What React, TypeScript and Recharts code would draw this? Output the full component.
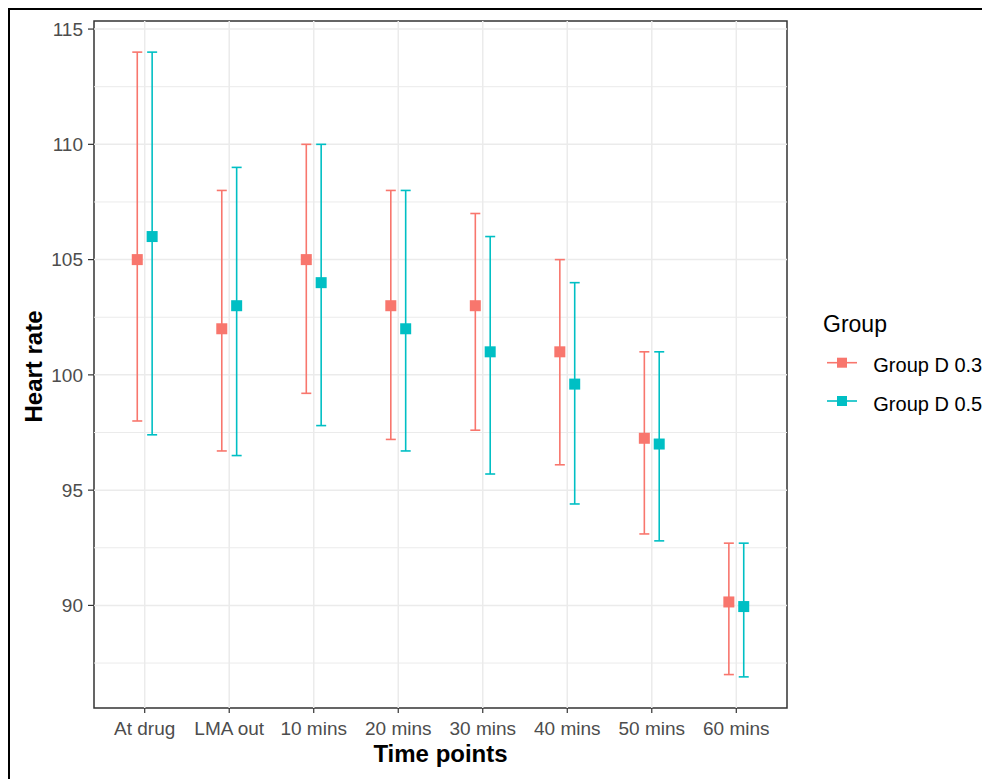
import React from "react";
import {
  ComposedChart,
  ErrorBar,
  Label,
  ReferenceArea,
  ReferenceLine,
  Scatter,
  XAxis,
  YAxis
} from "recharts";

const timePoints = ["At drug", "LMA out", "10 mins", "20 mins", "30 mins", "40 mins", "50 mins", "60 mins"];

// Group D 0.3
const d03Mean = [105, 102, 105, 103, 103, 101, 97.25, 90.15];
const d03Low = [98, 96.7, 99.2, 97.2, 97.6, 96.1, 93.1, 87];
const d03High = [114, 108, 110, 108, 107, 105, 101, 92.7];

// Group D 0.5
const d05Mean = [106, 103, 104, 102, 101, 99.6, 97, 89.95];
const d05Low = [97.4, 96.5, 97.8, 96.7, 95.7, 94.4, 92.8, 86.9];
const d05High = [114, 109, 110, 108, 106, 104, 101, 92.7];

const yTicks = [90, 95, 100, 105, 110, 115];
const yMinor = [87.5, 92.5, 97.5, 102.5, 107.5, 112.5];

const RED = "#F8766D";
const TEAL = "#00BFC4";
const FONT = "'Liberation Sans', Arial, sans-serif";
const DODGE = 0.088;
const X_DOMAIN: [number, number] = [0.4, 8.6];
const Y_DOMAIN: [number, number] = [85.55, 115.35];

const build = (mean: number[], low: number[], high: number[], shift: number) =>
  mean.map((m, i) => ({
    x: i + 1 + shift,
    y: m,
    err: [m - low[i], high[i] - m]
  }));

const squareShape = (color: string) => (props: any) => (
  <rect x={props.cx - 5.5} y={props.cy - 5.5} width={11} height={11} fill={color} />
);

export default function App() {
  const d03 = build(d03Mean, d03Low, d03High, -DODGE);
  const d05 = build(d05Mean, d05Low, d05High, DODGE);
  const xTicks = timePoints.map((_, i) => i + 1);

  return (
    <div
      style={{
        position: "relative",
        width: 982,
        height: 771,
        borderTop: "2px solid #000",
        borderLeft: "2px solid #000",
        boxSizing: "border-box",
        fontFamily: FONT
      }}
    >
      <ComposedChart width={980} height={769} margin={{ top: 11, right: 203, bottom: 31, left: 10 }}>
        {yMinor.map((v) => (
          <ReferenceLine key={"mn" + v} y={v} stroke="#EBEBEB" strokeWidth={1} />
        ))}
        {yTicks.map((v) => (
          <ReferenceLine key={"mj" + v} y={v} stroke="#EBEBEB" strokeWidth={1.5} />
        ))}
        {xTicks.map((v) => (
          <ReferenceLine key={"vx" + v} x={v} stroke="#EBEBEB" strokeWidth={1.5} />
        ))}
        <XAxis
          type="number"
          dataKey="x"
          domain={X_DOMAIN}
          allowDataOverflow
          ticks={xTicks}
          interval={0}
          tickFormatter={(v: number) => timePoints[Math.round(v) - 1]}
          axisLine={false}
          tickLine={{ stroke: "#333333", strokeWidth: 1.2 }}
          tickSize={5}
          tickMargin={8.5}
          height={40}
          tick={{ fill: "#4D4D4D", fontSize: 19, fontFamily: FONT }}
        >
          <Label
            content={(p: any) => (
              <text
                x={p.viewBox.x + p.viewBox.width / 2}
                y={p.viewBox.y + 54}
                textAnchor="middle"
                fontWeight="bold"
                fontSize={24}
                fontFamily={FONT}
                fill="#000"
              >
                Time points
              </text>
            )}
          />
        </XAxis>
        <YAxis
          type="number"
          domain={Y_DOMAIN}
          allowDataOverflow
          ticks={yTicks}
          interval={0}
          axisLine={false}
          tickLine={{ stroke: "#333333", strokeWidth: 1.2 }}
          tickSize={6}
          tickMargin={5}
          width={74}
          tick={{ fill: "#4D4D4D", fontSize: 19, fontFamily: FONT }}
        >
          <Label
            content={(p: any) => {
              const cx = 31.7;
              const cy = p.viewBox.y + p.viewBox.height / 2 + 2;
              return (
                <text
                  x={cx}
                  y={cy}
                  transform={`rotate(-90, ${cx}, ${cy})`}
                  textAnchor="middle"
                  fontWeight="bold"
                  fontSize={24}
                  fontFamily={FONT}
                  fill="#000"
                >
                  Heart rate
                </text>
              );
            }}
          />
        </YAxis>
        <Scatter name="Group D 0.3" data={d03} dataKey="y" fill={RED} shape={squareShape(RED)} isAnimationActive={false}>
          <ErrorBar dataKey="err" direction="y" width={5} stroke={RED} strokeWidth={1.6} isAnimationActive={false} />
        </Scatter>
        <Scatter name="Group D 0.5" data={d05} dataKey="y" fill={TEAL} shape={squareShape(TEAL)} isAnimationActive={false}>
          <ErrorBar dataKey="err" direction="y" width={5} stroke={TEAL} strokeWidth={1.6} isAnimationActive={false} />
        </Scatter>
        <ReferenceArea
          x1={X_DOMAIN[0]}
          x2={X_DOMAIN[1]}
          y1={Y_DOMAIN[0]}
          y2={Y_DOMAIN[1]}
          fill="none"
          stroke="#333333"
          strokeWidth={1.5}
        />
      </ComposedChart>

      <svg
        width={190}
        height={140}
        style={{ position: "absolute", left: 790, top: 280 }}
        fontFamily={FONT}
      >
        <text x={23} y={41.7} fontSize={23} fill="#000">Group</text>
        <line x1={27} x2={57} y1={72.7} y2={72.7} stroke={RED} strokeWidth={1.6} />
        <rect x={37} y={67.7} width={10} height={10} fill={RED} />
        <text x={73.3} y={82.3} fontSize={20} fill="#000">Group D 0.3</text>
        <line x1={27} x2={57} y1={111} y2={111} stroke={TEAL} strokeWidth={1.6} />
        <rect x={37} y={106} width={10} height={10} fill={TEAL} />
        <text x={73.3} y={120.6} fontSize={20} fill="#000">Group D 0.5</text>
      </svg>
    </div>
  );
}
